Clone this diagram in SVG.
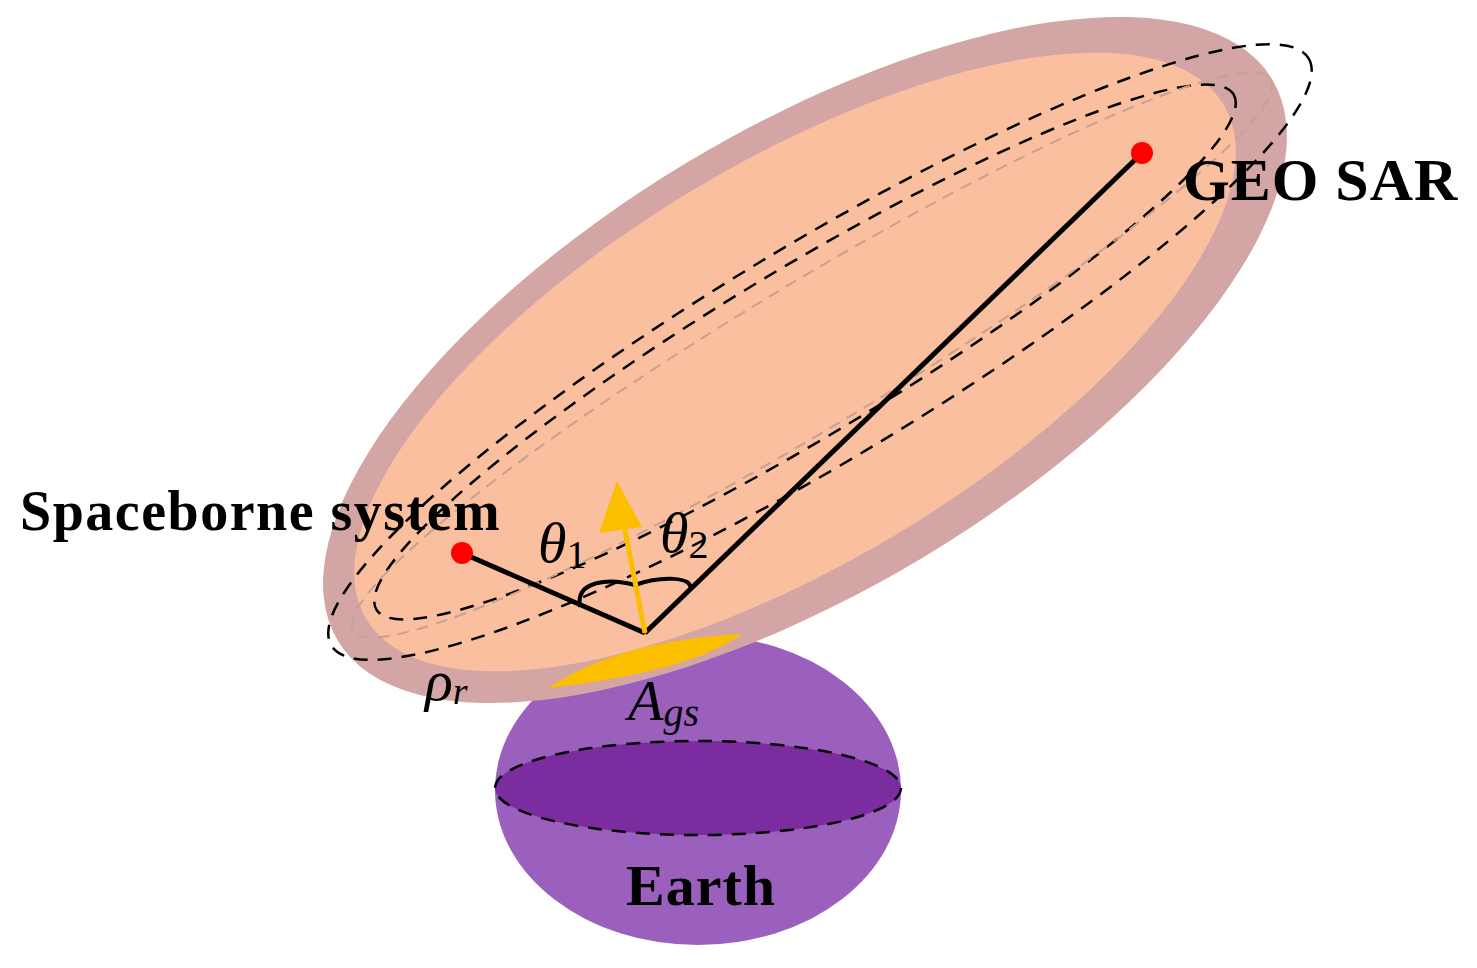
<svg xmlns="http://www.w3.org/2000/svg" width="1477" height="968" viewBox="0 0 1477 968">
<style>
.dash{fill:none;stroke:#000;stroke-width:2.5;stroke-dasharray:14,10}
.ldash{fill:none;stroke:#c8a090;stroke-width:2;stroke-dasharray:12,8}
.lbl{font-family:"Liberation Serif",serif;font-weight:bold;fill:#000}
.math{font-family:"Liberation Serif",serif;font-style:italic;fill:#000}
</style>
<rect width="1477" height="968" fill="#fff"/>
<g id="earth">
<ellipse cx="698" cy="790" rx="203" ry="155" fill="#9b5fbd"/>
<ellipse cx="698" cy="788" rx="203" ry="47" class="dash" style="fill:#7b2d9f"/>
<text class="lbl" x="701" y="905" font-size="58" text-anchor="middle" letter-spacing="1">Earth</text>
</g>
<g id="ellipsoid">
<ellipse cx="805" cy="360" rx="545" ry="230" transform="rotate(-31 805 360)" fill="#d4a5a5"/>
<ellipse cx="795" cy="362" rx="500" ry="200" transform="rotate(-31 795 362)" fill="#f9bf9f"/>
<ellipse cx="820" cy="352" rx="570" ry="108" transform="rotate(-31 820 352)" class="dash"/>
<ellipse cx="805" cy="352" rx="500" ry="84" transform="rotate(-31 805 352)" class="dash"/>
<ellipse cx="812" cy="355" rx="535" ry="72" transform="rotate(-31 812 355)" class="ldash"/>
</g>
<g id="footprint">
<path d="M548,688 Q620,640 742,634 Q690,672 548,688 Z" fill="#fbbf00"/>
</g>
<g id="connectors">
<line x1="462" y1="553" x2="645" y2="633" stroke="#000" stroke-width="5"/>
<line x1="645" y1="633" x2="1142" y2="153" stroke="#000" stroke-width="5"/>
<path d="M580,607 C575,580 610,578 635,585 C660,576 695,576 690,590" fill="none" stroke="#000" stroke-width="4"/>
<line x1="645" y1="633" x2="622" y2="515" stroke="#fbbf00" stroke-width="5"/>
<polygon points="617,481 599,533 642,527" fill="#fbbf00"/>
</g>
<g id="geo">
<circle cx="1142" cy="153" r="11" fill="#f00"/>
<text class="lbl" x="1183" y="200" font-size="60" letter-spacing="1">GEO SAR</text>
</g>
<g id="spaceborne">
<circle cx="462" cy="553" r="11" fill="#f00"/>
<text class="lbl" x="20" y="530" font-size="56" letter-spacing="1.5">Spaceborne system</text>
</g>
<g id="labels">
<text class="math" x="538" y="562" font-size="58">θ<tspan font-style="normal" font-size="40" dy="6">1</tspan></text>
<text class="math" x="660" y="552" font-size="58">θ<tspan font-style="normal" font-size="40" dy="6">2</tspan></text>
<text class="math" x="425" y="700" font-size="58">ρ<tspan font-size="38" dy="4">r</tspan></text>
<text class="math" x="628" y="720" font-size="58">A<tspan font-size="40" dy="6">gs</tspan></text>
</g>
</svg>
